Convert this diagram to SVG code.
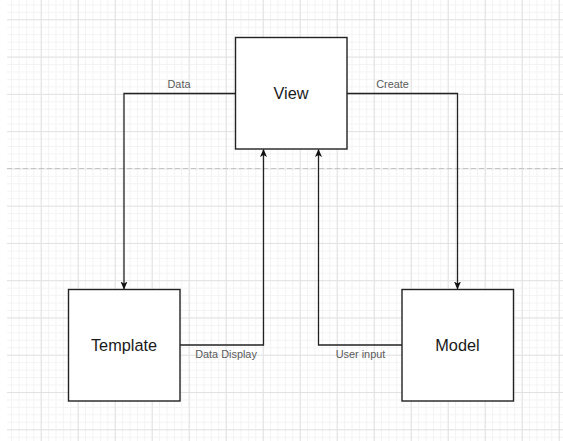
<svg xmlns="http://www.w3.org/2000/svg" width="563" height="441" viewBox="0 0 563 441">
  <defs>
    <pattern id="gridMinor" patternUnits="userSpaceOnUse" x="3.7" y="-17.96" width="7.4" height="7.454">
      <path d="M0 0.5H7.4M0.5 0V7.454" fill="none" stroke="#f3f3f3" stroke-width="1"/>
    </pattern>
    <pattern id="gridMajor" patternUnits="userSpaceOnUse" x="3.7" y="-17.96" width="37" height="37.27">
      <path d="M0 0.5H37M0.5 0V37.27" fill="none" stroke="#e2e2e2" stroke-width="1"/>
    </pattern>
    <marker id="arrow" viewBox="0 0 8 8" refX="7.5" refY="4" markerWidth="8" markerHeight="8" markerUnits="userSpaceOnUse" orient="auto">
      <path d="M0 0.5L8 4L0 7.5L2 4Z" fill="#111"/>
    </marker>
  </defs>
  <style>
    .node rect { fill: #ffffff; stroke: #222222; stroke-width: 1.4; }
    .node text { font-family: "Liberation Sans", Arial, sans-serif; font-size: 16.3px; fill: #1a1a1a; text-anchor: middle; }
    .edge { fill: none; stroke: #222222; stroke-width: 1.3; marker-end: url(#arrow); }
    .label { font-family: "Liberation Sans", Arial, sans-serif; font-size: 10.9px; fill: #5a5a5a; text-anchor: middle; }
  </style>

  <!-- canvas with grid -->
  <rect x="0" y="0" width="563" height="441" fill="#ffffff"/>
  <rect x="7" y="0" width="556" height="441" fill="url(#gridMinor)"/>
  <rect x="7" y="0" width="556" height="441" fill="url(#gridMajor)"/>
  <!-- page break line -->
  <line x1="7" y1="168.5" x2="563" y2="168.5" stroke="#c4c4c4" stroke-width="1" stroke-dasharray="5 3"/>

  <!-- connectors -->
  <g id="connectors">
    <path class="edge" d="M235 93.5H124V289"/>
    <path class="edge" d="M347 93.5H457.5V289"/>
    <path class="edge" d="M180 345H263.5V149.5"/>
    <path class="edge" d="M402 345H318.5V149.5"/>
    <text class="label" x="179" y="87.5">Data</text>
    <text class="label" x="392.5" y="87.5">Create</text>
    <text class="label" x="226" y="357.5">Data Display</text>
    <text class="label" x="360.5" y="357.5">User input</text>
  </g>

  <g id="view" class="node">
    <rect x="235.5" y="37.5" width="111.5" height="111.5"/>
    <text x="291" y="98.5">View</text>
  </g>
  <g id="template" class="node">
    <rect x="68.5" y="289.5" width="111.5" height="111.5"/>
    <text x="124" y="350.5">Template</text>
  </g>
  <g id="model" class="node">
    <rect x="402" y="289.5" width="111.5" height="111.5"/>
    <text x="457.5" y="350.5">Model</text>
  </g>
</svg>
